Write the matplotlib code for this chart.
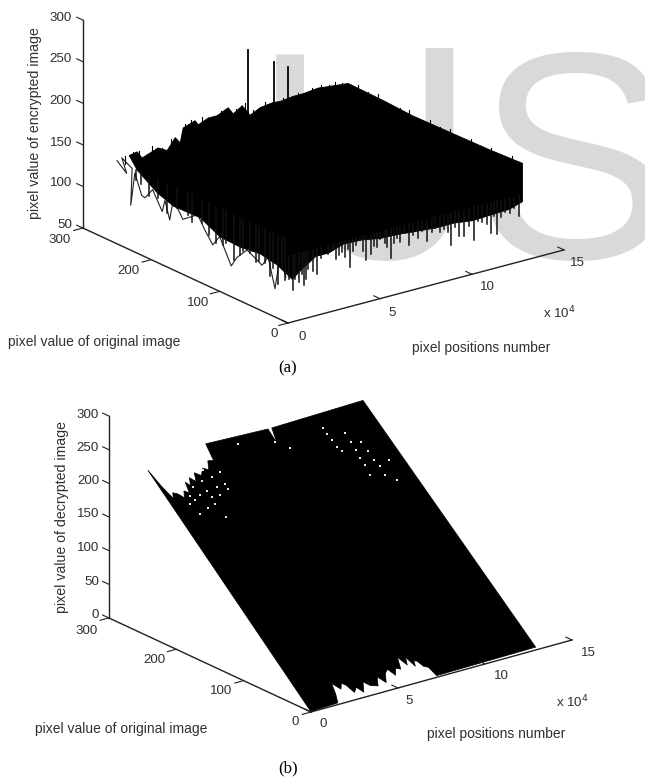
import matplotlib
matplotlib.use('Agg')
import matplotlib.pyplot as plt
import numpy as np
from mpl_toolkits.mplot3d import proj3d
from mpl_toolkits.mplot3d.art3d import Poly3DCollection

W, H = 645, 778
plt.rcParams['font.family'] = ['Liberation Sans', 'DejaVu Sans']

#Panel (a) ticks
a_xticks = [0, 50000, 100000, 150000]
a_yticks = [0, 100, 200, 300]
a_zticks = [50, 100, 150, 200, 250, 300]

#Panel (a) solid part of the cloud
#back edge, original pixel value = 255
a_back_x = [8200, 12500, 15200, 23900, 28800, 33200, 35900, 37500, 44000, 45700, 51100, 56000,
            62000, 64700, 69600, 73900, 79400, 86400, 90200, 97300, 102700, 110900, 114700, 127200]
a_back_z = [150, 152, 143, 150, 144, 157, 149, 166, 171, 165, 170, 170,
            176, 167, 174, 160, 166, 168, 167, 169, 169, 171, 170, 167]
#right edge, pixel position = 127200
a_right_y = [204, 162, 101, 47, 0, 0]
a_right_z = [166, 164, 165, 166, 168, 122]
#front edge, original pixel value = 0
a_front_x = [120000, 110000, 100000, 90000, 80000, 70000, 60000, 50000, 40000, 30000, 22000, 15000, 8000, 2000]
a_front_z = [117, 116, 115, 118, 118, 120, 122, 123, 127, 128, 122, 122, 112, 102]
#left edge, pixel position = 0
a_left_y = [16, 41, 70, 100, 129, 168, 192, 221]
a_left_z = [114, 118, 115, 116, 128, 127, 134, 150]

#thin lines hanging under the front edge
a_drop_x = [700, 2700, 4000, 6100, 7400, 8700, 10000, 11000, 13500, 15900, 18200, 21500, 24600, 26000, 27900,
            29600, 31000, 32400, 33700, 35500, 37000, 39100, 41000, 42400, 44900, 46500, 48200, 50000, 52500,
            54000, 55800, 57500, 59100, 61000, 63000, 65900, 68000, 70800, 73000, 75400, 78000, 80000, 82600,
            85000, 86800, 88600, 91000, 93100, 95700, 98500, 101100, 103000, 105300, 108000, 110300, 112000,
            113400, 115500, 118000, 120700, 123000, 125700]
a_drop_z = [103, 88, 100, 96, 104, 91, 97, 109, 105, 99, 118, 120, 123, 112, 115,
            118, 111, 120, 98, 116, 122, 127, 112, 101, 107, 115, 113, 122, 116,
            110, 96, 113, 117, 112, 121, 105, 116, 111, 118, 105, 114, 117, 111,
            113, 109, 92, 112, 100, 98, 109, 90, 112, 110, 106, 93, 113,
            91, 110, 114, 111, 116, 105]
#thin lines hanging under the left edge
a_hang_y = [5, 9, 14, 22, 26, 33, 42, 47, 55, 66, 70, 79, 90, 95, 105, 115, 126, 140, 147, 163, 177, 190, 203,
            215, 222]
a_hang_z = [100, 112, 92, 108, 97, 110, 108, 106, 113, 112, 105, 96, 112, 108, 106, 112, 122, 118, 124, 126,
            115, 128, 126, 135, 138]
#thin zigzag along the left edge
a_zig_y = [3, 12, 19, 29, 38, 51, 60, 75, 83, 100, 110, 122, 132, 154, 158, 168, 173, 180, 184, 198,
           209, 214, 224, 230, 228, 243, 236, 250]
a_zig_z = [104, 124, 84, 118, 105, 111, 115, 100, 87, 116, 102, 116, 130, 116, 122, 134, 108, 129, 114, 135,
           121, 122, 145, 104, 149, 156, 140, 150]
#short lines standing on the back and right edges
a_top_x = [6000, 10300, 14000, 18000, 21000, 26000, 31000, 39000, 42000, 48000, 53000, 58500, 66500, 71500,
           76000, 82000, 85000, 92000, 95000, 100000, 105000, 108000, 112500, 117000, 120500, 124000]
a_top_z = [150, 153, 152, 146, 153, 148, 156, 169, 172, 172, 168, 173, 171, 175,
           165, 170, 165, 170, 167, 171, 168, 172, 173, 170, 172, 169]
a_edge_y = [240, 225, 210, 192, 178, 165, 150, 135, 120, 105, 90, 75, 60, 45, 30, 15]
a_edge_z = [170, 167, 171, 165, 166, 169, 164, 168, 165, 169, 164, 168, 165, 169, 166, 170]
#the three tall lines
a_spike_x = [72900, 87000, 94700]
a_spike_z = [238, 216, 205]

#Panel (b) ticks
b_xticks = [0, 50000, 100000, 150000]
b_yticks = [0, 100, 200, 300]
b_zticks = [0, 50, 100, 150, 200, 250, 300]

#Panel (b) sheet outline, decrypted = original
b_upper_x = [0, 900, 2200, 3900, 5500, 7500, 9500, 11500, 13500, 15000, 16500, 18500, 20500, 22500, 25000,
             28200, 30500, 33000, 35900, 37600, 72600, 72300, 74800, 128000, 130000]
b_upper_y = [1, 245, 228, 215, 220, 218, 213, 219, 216, 226, 222, 229, 224, 232, 228,
             234, 231, 239, 238, 254, 252, 238, 252, 254, 3]
b_lower_x = [72700, 71500, 69500, 68000, 66600, 65500, 63700, 62000, 60500, 59800, 57500, 55300, 53000, 51000,
             48700, 46000, 43500, 41000, 37500, 35000, 32000, 30000, 27400, 25800, 24100, 22000, 19300, 17800, 15900]
b_lower_y = [2, 11, 13, 19, 20, 15, 25, 18, 24, 27, 16, 18, 12, 19,
             16, 8, 15, 7, 9, 14, 5, 11, 7, 15, 18, 13, 20, 10, 2]
#the white specks left in the sheet
b_gap_x = [13100, 13900, 18000, 22600, 23100, 27700, 22500, 17600, 11900, 17500, 23800, 29700, 35400, 34000,
           33900, 14000, 10400, 23400, 27900, 28800, 99600, 99300, 100100, 100300, 101100, 108800, 108400,
           108100, 107800, 108000, 113300, 114000, 113700, 114700, 120900, 114400, 118400, 106800, 77100,
           53300, 72100]
b_gap_y = [213, 208, 211, 213, 207, 206, 200, 198, 195, 220, 223, 224, 226, 215,
           210, 223, 206, 186, 232, 214, 239, 233, 227, 220, 215, 230, 221,
           213, 205, 198, 219, 209, 200, 193, 197, 185, 178, 188, 230,
           246, 239]

fig = plt.figure(figsize=(W / 100, H / 100), dpi=100)


def to_px(ax, x, y, z):
    #where a data point lands, in pixels from the top left
    ax.apply_aspect()
    x2, y2, _ = proj3d.proj_transform(x, y, z, ax.get_proj())
    pt = ax.transData.transform((x2, y2))
    return pt[0], H - pt[1]


def fit_box(ax, p0, p1, px0, px1):
    #scale and move the square axes so that p0 and p1 land on the wanted pixels
    side = 500.0
    left, top = 50.0, 50.0
    for i in range(3):
        ax.set_position([left / W, 1 - (top + side) / H, side / W, side / H])
        a = np.array(to_px(ax, *p0))
        b = np.array(to_px(ax, *p1))
        side_new = side * np.hypot(*(np.array(px1) - np.array(px0))) / np.hypot(*(b - a))
        left = left + (side - side_new) / 2
        top = top + (side - side_new) / 2
        side = side_new
        ax.set_position([left / W, 1 - (top + side) / H, side / W, side / H])
        a = np.array(to_px(ax, *p0))
        left += px0[0] - a[0]
        top += px0[1] - a[1]
    ax.set_position([left / W, 1 - (top + side) / H, side / W, side / H])


def make_axes(aspect, elev, azim, zlim):
    ax = fig.add_axes([0, 0, 1, 1], projection='3d', proj_type='ortho')
    ax.view_init(elev=elev, azim=azim)
    ax.set_box_aspect(aspect)
    ax.set_xlim(0, 150000)
    ax.set_ylim(0, 300)
    ax.set_zlim(*zlim)
    ax.set_axis_off()
    ax.patch.set_alpha(0)
    ax.computed_zorder = False
    return ax


def draw_frame(ax, xticks, yticks, zticks):
    z0 = zticks[0]
    z1 = zticks[-1]
    col = '#202020'
    ax.plot([0, 150000], [0, 0], [z0, z0], color=col, lw=1.0, clip_on=False, zorder=5)
    ax.plot([0, 0], [0, 300], [z0, z0], color=col, lw=1.0, clip_on=False, zorder=5)
    ax.plot([0, 0], [300, 300], [z0, z1], color=col, lw=1.0, clip_on=False, zorder=5)
    for t in xticks:
        ax.plot([t, t], [0, 9], [z0, z0], color=col, lw=0.8, clip_on=False, zorder=5)
    for t in yticks:
        ax.plot([0, -5000], [t, t], [z0, z0], color=col, lw=0.8, clip_on=False, zorder=5)
    for t in zticks:
        ax.plot([0, 0], [300, 309], [t, t], color=col, lw=0.8, clip_on=False, zorder=5)


def put(sx, sy, s, **kw):
    kw.setdefault('fontsize', 9.6)
    kw.setdefault('color', '#303030')
    kw.setdefault('ha', 'center')
    kw.setdefault('va', 'center')
    fig.text(sx / W, 1 - sy / H, s, **kw)


#watermark behind everything
for letter, sx, fam in [('I', 249, 'Liberation Sans'), ('J', 312, 'Roboto'), ('S', 476, 'Liberation Sans')]:
    fig.text(sx / W, 1 - 258 / H, letter, fontsize=213, color='#d9d9d9', ha='left', va='baseline',
             family=fam, zorder=-1)

#(a)
ax1 = make_axes((346, 340, 222), 20.5, -127.1, (50, 300))
verts = list(zip(a_back_x, [255] * len(a_back_x), a_back_z))
verts += list(zip([127200] * len(a_right_y), a_right_y, a_right_z))
verts += list(zip(a_front_x, [0] * len(a_front_x), a_front_z))
verts += list(zip([0] * len(a_left_y), a_left_y, a_left_z))
ax1.add_collection3d(Poly3DCollection([verts], facecolor='k', edgecolor='k', linewidths=0.6, zorder=2))
ax1.plot([0] * len(a_zig_y), a_zig_y, a_zig_z, color='#222222', lw=0.8, clip_on=False, zorder=1)
for dx, dz in zip(a_drop_x, a_drop_z):
    ax1.plot([dx, dx], [0, 0], [130, dz], color='#111111', lw=1.1, clip_on=False, zorder=3)
for hy, hz in zip(a_hang_y, a_hang_z):
    ax1.plot([0, 0], [hy, hy], [150, hz], color='#111111', lw=1.1, clip_on=False, zorder=3)
for tx, tz in zip(a_top_x, a_top_z):
    ax1.plot([tx, tx], [255, 255], [140, tz], color='k', lw=0.8, clip_on=False, zorder=3)
for ey, ez in zip(a_edge_y, a_edge_z):
    ax1.plot([127200, 127200], [ey, ey], [150, ez], color='k', lw=0.8, clip_on=False, zorder=3)
for sx, sz in zip(a_spike_x, a_spike_z):
    ax1.plot([sx, sx], [255, 255], [160, sz], color='k', lw=1.3, clip_on=False, zorder=3)
draw_frame(ax1, a_xticks, a_yticks, a_zticks)
fit_box(ax1, (0, 0, 50), (150000, 0, 50), (288, 323), (564, 250))

a_z_pos = [225, 183, 143, 101, 59, 18]
for t, sy in zip(a_zticks, a_z_pos):
    put(72, sy, str(t), ha='right')
for t, (sx, sy) in zip(a_yticks, [(274, 334), (198, 303), (128, 271), (60, 240)]):
    put(sx, sy, str(t))
for t, (sx, sy) in zip([0, 5, 10, 15], [(302, 337), (392, 313), (487, 287), (577, 263)]):
    put(sx, sy, str(t))
put(559, 313, r'x 10$^{4}$', math_fontfamily='custom')
put(35, 123, 'pixel value of encrypted image', rotation=90, fontsize=10.2)
put(94, 342, 'pixel value of original image', fontsize=10)
put(481, 348, 'pixel positions number', fontsize=10)
put(288, 368, '(a)', family='Liberation Serif', fontsize=12, color='k')

#(b)
ax2 = make_axes((329, 331, 216), 21, -127.6, (0, 300))
bx = b_upper_x + b_lower_x
by = b_upper_y + b_lower_y
ax2.add_collection3d(Poly3DCollection([list(zip(bx, by, by))], facecolor='k', edgecolor='k', linewidths=0.5, zorder=2))
ax2.scatter(b_gap_x, b_gap_y, b_gap_y, marker='s', s=1.2, c='#e8e8e8', linewidths=0, depthshade=False, zorder=3)
draw_frame(ax2, b_xticks, b_yticks, b_zticks)
fit_box(ax2, (0, 0, 0), (150000, 0, 0), (311, 712), (572, 640))

b_z_pos = [615, 582, 548, 514, 481, 448, 415]
for t, sy in zip(b_zticks, b_z_pos):
    put(99, sy, str(t), ha='right')
for t, (sx, sy) in zip(b_yticks, [(295, 722), (221, 691), (154, 660), (87, 631)]):
    put(sx, sy, str(t))
for t, (sx, sy) in zip([0, 5, 10, 15], [(323, 724), (409, 701), (501, 676), (588, 653)]):
    put(sx, sy, str(t))
put(572, 702, r'x 10$^{4}$', math_fontfamily='custom')
put(62, 517, 'pixel value of decrypted image', rotation=90, fontsize=10.2)
put(121, 729, 'pixel value of original image', fontsize=10)
put(496, 734, 'pixel positions number', fontsize=10)
put(288, 768, '(b)', family='Liberation Serif', fontsize=12, color='k')

plt.savefig('out.png', dpi=100)
